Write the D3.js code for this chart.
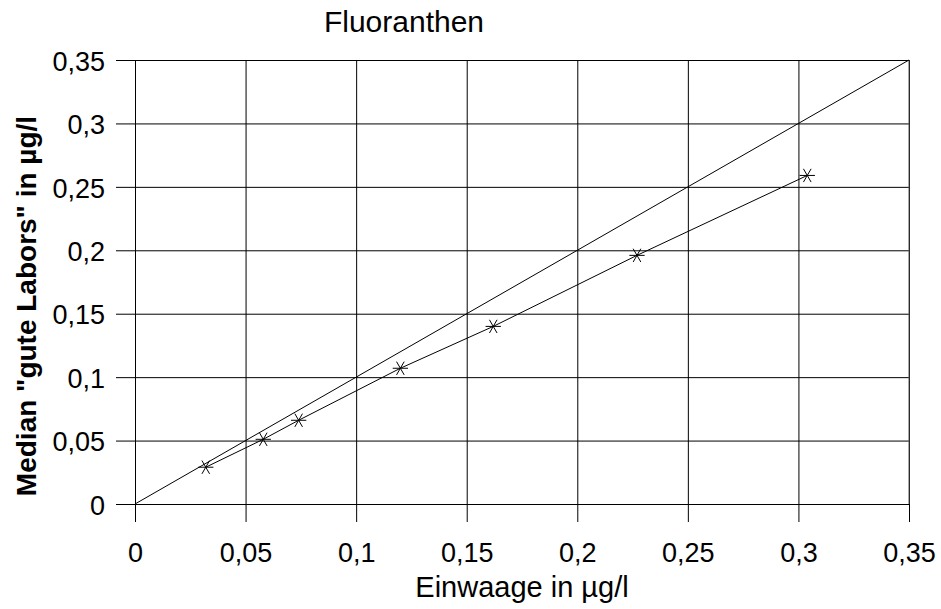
<!DOCTYPE html>
<html>
<head>
<meta charset="utf-8">
<script src="https://cdn.jsdelivr.net/npm/d3@7"></script>
<style>
  body { margin: 0; background: #fff; }
  text { font-family: "Liberation Sans", Arial, sans-serif; fill: #000; }
</style>
</head>
<body>
<div id="plot"></div>
<script>
// Data
var einwaage = [0.032, 0.058, 0.074, 0.120, 0.162, 0.227, 0.304];
var median = [0.029, 0.051, 0.066, 0.107, 0.140, 0.196, 0.259];
var refLine = [0, 0.35];
var tickValues = [0, 0.05, 0.1, 0.15, 0.2, 0.25, 0.3, 0.35];
var tickLabels = ["0", "0,05", "0,1", "0,15", "0,2", "0,25", "0,3", "0,35"];

// Dimensions
var margin = {top: 60, right: 32, bottom: 105, left: 135},
    width = 941 - margin.left - margin.right,
    height = 609 - margin.top - margin.bottom;

var svg = d3.select("#plot")
    .append("svg")
        .attr("width", width + margin.left + margin.right)
        .attr("height", height + margin.top + margin.bottom)
    .append("g")
        .attr("transform", "translate(" + margin.left + "," + margin.top + ")");

// Scales
var x = d3.scaleLinear().domain([0, 0.35]).range([0, width]);
var y = d3.scaleLinear().domain([0, 0.35]).range([height, 0]);

// X axis with gridlines (ticks go out below the plot)
var xAxis = svg.append("g")
    .attr("transform", "translate(0," + height + ")")
    .call(d3.axisBottom(x)
        .tickValues(tickValues)
        .tickSize(-height)
        .tickSizeOuter(0)
        .tickFormat(function(d, i) { return tickLabels[i]; }));
xAxis.select(".domain").remove();
xAxis.selectAll(".tick line")
    .attr("y2", 18)
    .attr("y1", -height)
    .attr("stroke", "#000");
xAxis.selectAll(".tick text")
    .attr("y", 58)
    .attr("dy", 0)
    .style("font-size", "27px")
    .style("font-family", "'Liberation Sans', Arial, sans-serif");

// Y axis with gridlines
var yAxis = svg.append("g")
    .call(d3.axisLeft(y)
        .tickValues(tickValues)
        .tickSize(-width)
        .tickSizeOuter(0)
        .tickFormat(function(d, i) { return tickLabels[i]; }));
yAxis.select(".domain").remove();
yAxis.selectAll(".tick line")
    .attr("x1", -19)
    .attr("x2", width)
    .attr("stroke", "#000");
yAxis.selectAll(".tick text")
    .attr("x", -30)
    .attr("dy", "0.38em")
    .style("font-size", "27px")
    .style("font-family", "'Liberation Sans', Arial, sans-serif");

// Right border of the plot
svg.append("line")
    .attr("x1", x(0.35)).attr("x2", x(0.35))
    .attr("y1", 0).attr("y2", height)
    .attr("stroke", "#555");

// 1:1 reference line
svg.append("path")
    .datum(refLine)
    .attr("fill", "none")
    .attr("stroke", "#000")
    .attr("stroke-width", 1)
    .attr("d", d3.line()
        .x(function(d) { return x(d); })
        .y(function(d) { return y(d); }));

// Median line
var points = einwaage.map(function(v, i) { return [v, median[i]]; });
svg.append("path")
    .datum(points)
    .attr("fill", "none")
    .attr("stroke", "#000")
    .attr("stroke-width", 1)
    .attr("d", d3.line()
        .x(function(d) { return x(d[0]); })
        .y(function(d) { return y(d[1]); }));

// Star markers
svg.selectAll(".marker")
    .data(points)
    .enter().append("path")
        .attr("class", "marker")
        .attr("d", d3.symbol().type(d3.symbolAsterisk).size(165))
        .attr("transform", function(d) {
            return "translate(" + x(d[0]) + "," + y(d[1]) + ") rotate(90)";
        })
        .attr("fill", "none")
        .attr("stroke", "#000")
        .attr("stroke-width", 1);

// Titles
svg.append("text")
    .attr("x", 404 - margin.left)
    .attr("y", 32 - margin.top)
    .style("text-anchor", "middle")
    .style("font-size", "30px")
    .text("Fluoranthen");

svg.append("text")
    .attr("x", width / 2)
    .attr("y", 597 - margin.top)
    .style("text-anchor", "middle")
    .style("font-size", "29px")
    .text("Einwaage in µg/l");

svg.append("text")
    .attr("transform", "rotate(-90)")
    .attr("x", -(306 - margin.top))
    .attr("y", 36 - margin.left)
    .style("text-anchor", "middle")
    .style("font-size", "28px")
    .style("font-weight", "bold")
    .text("Median \"gute Labors\" in µg/l");
</script>
</body>
</html>
